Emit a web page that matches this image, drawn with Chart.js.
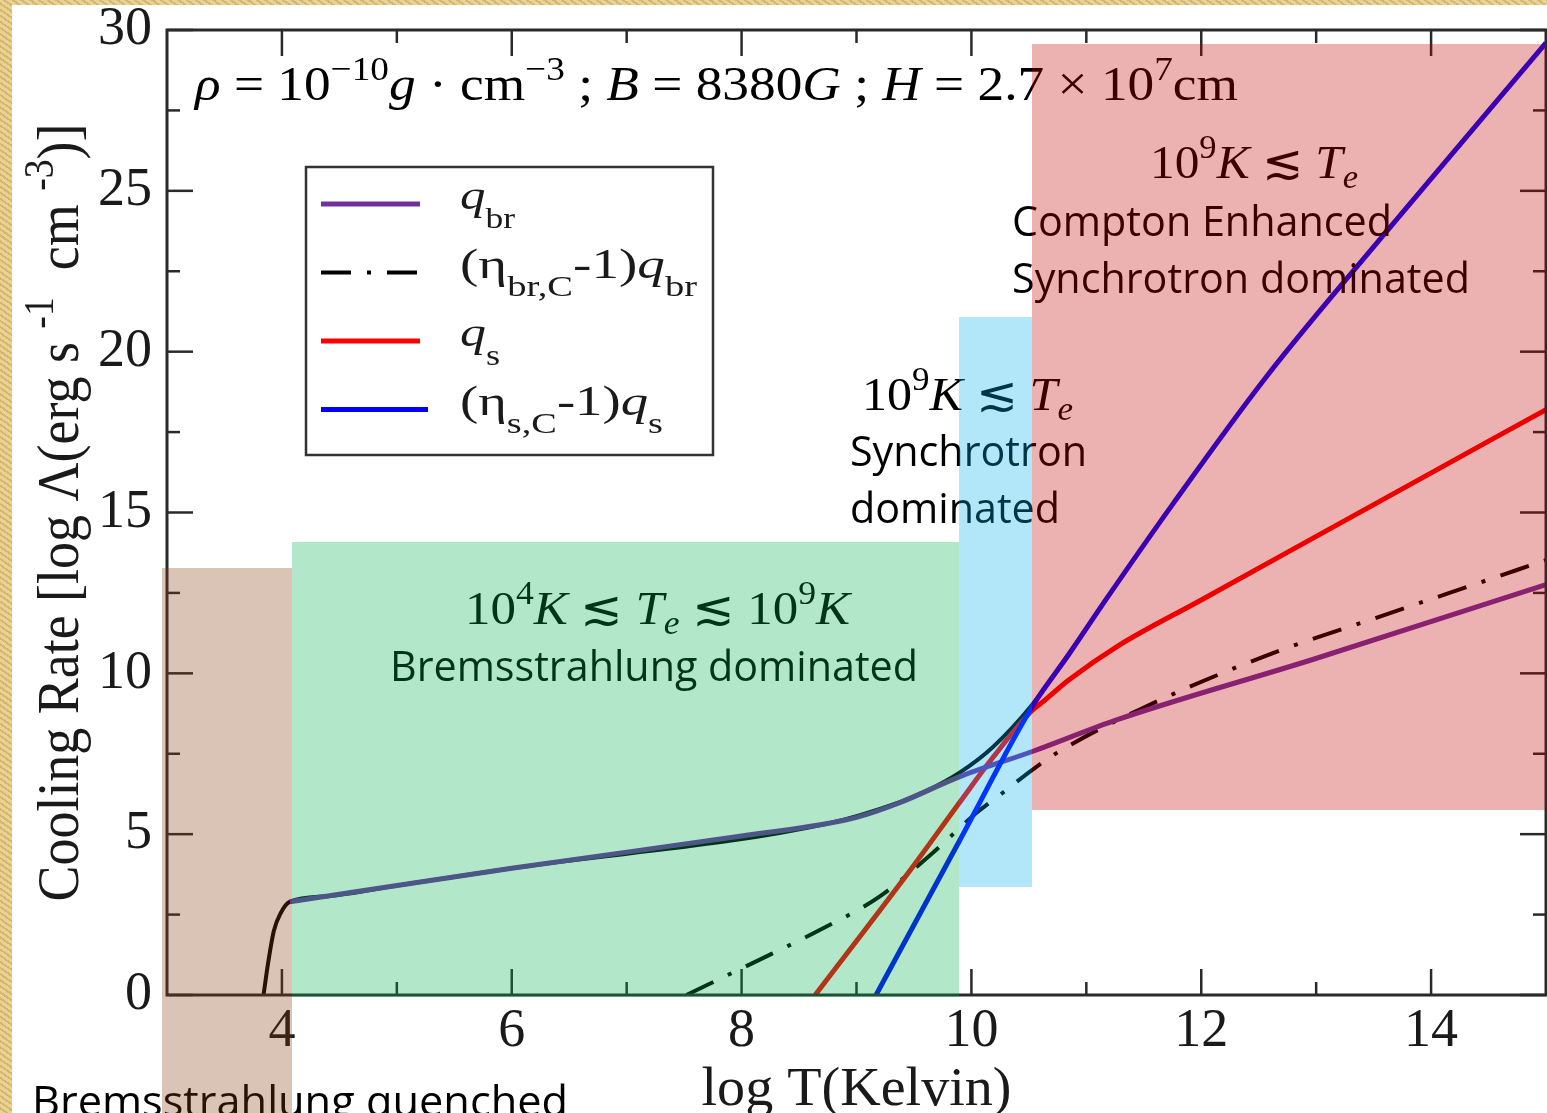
<!DOCTYPE html>
<html>
<head>
<meta charset="utf-8">
<title>Cooling rate vs log T</title>
<script src="https://cdn.jsdelivr.net/npm/chart.js@4.4.1/dist/chart.umd.min.js"></script>
<style>
  html, body { margin: 0; padding: 0; }
  body {
    width: 1547px; height: 1113px; overflow: hidden; position: relative;
    background: #dec27e repeating-linear-gradient(35deg, rgba(255,240,190,0.35) 0 3px, rgba(170,130,50,0.18) 3px 5px);
  }
  #paper { position: absolute; left: 12px; top: 5px; right: 0; bottom: 0; background: #fff; }
  #chart { position: absolute; left: 0; top: 0; width: 1547px; height: 1113px; }
</style>
</head>
<body>
<div id="paper"></div>
<canvas id="chart" width="1547" height="1113"></canvas>
<script>
// axis ticks
const xTicks = [4, 6, 8, 10, 12, 14];
const yTicks = [0, 5, 10, 15, 20, 25, 30];

// log T (Kelvin) / log Lambda
const totalT = [3.84, 3.88, 3.93, 3.99, 4.07, 4.4, 5.0, 6.0, 8.76, 9.37, 9.6, 9.9, 10.19, 10.53, 10.85, 11.17];
const totalL = [0, 1.0, 2.0, 2.55, 2.9, 3.07, 3.4, 3.94, 5.34, 5.99, 6.33, 6.92, 7.72, 9.03, 10.62, 12.29];

const brT = [4.07, 6.0, 8.0, 8.76, 9.0, 9.37, 9.9, 10.53, 11.27, 12.97, 15];
const brL = [2.9, 3.94, 4.94, 5.34, 5.52, 5.97, 6.79, 7.57, 8.56, 10.43, 12.76];

const cbrT = [7.52, 8.1, 8.68, 9.2, 9.66, 10.04, 10.27, 10.53, 10.74, 11.46, 12.55, 13.5, 14.16, 15];
const cbrL = [0, 1.0, 2.02, 3.06, 4.41, 5.65, 6.28, 7.0, 7.52, 8.87, 10.53, 11.7, 12.5, 13.52];

const sT = [8.64, 9.49, 9.9, 10.18, 10.53, 10.61, 10.85, 11.27, 12.0, 13.58, 15];
const sL = [0, 3.99, 6.0, 7.35, 8.85, 9.08, 9.8, 10.84, 12.28, 15.4, 18.2];

const csT = [9.17, 9.9, 10.53, 10.85, 11.17, 11.76, 12.56, 13.58, 15];
const csL = [0, 4.82, 8.97, 10.6, 12.29, 15.3, 19.19, 23.6, 29.6];

// shaded regimes (axis units), drawn translucent on top like the slide shapes
const zones = [
  { x0: 2.957, x1: 4.087, y0: null, y1: 13.29, color: 'rgba(132,60,12,0.3)' },
  { x0: 4.087, x1: 9.896, y0: -0.06, y1: 14.07, color: 'rgba(0,176,80,0.3)' },
  { x0: 9.896, x1: 10.53, y0: 3.36, y1: 21.07, color: 'rgba(0,176,240,0.3)' },
  { x0: 10.53, x1: 15.0, y0: 5.76, y1: 29.57, color: 'rgba(192,0,0,0.3)' }
];

const SERIF = '"Liberation Serif", "DejaVu Serif", serif';
const SANS = '"Open Sans", "Noto Sans", sans-serif';

function pts(xs, ys) {
  return xs.map((x, i) => ({ x: x, y: ys[i] }));
}

// rich text: segments with italic / sup / sub
function layoutRich(ctx, segs, size, fam) {
  let w = 0;
  const parts = segs.map(s => {
    const small = s.sup || s.sub;
    const fs = small ? size * 0.7 : size;
    const font = (s.it ? 'italic ' : '') + fs + 'px ' + (s.fam || fam);
    ctx.font = font;
    let dy = 0;
    if (s.sup) dy = -size * 0.42;
    if (s.sub) dy = size * (typeof s.sub === 'number' ? s.sub : 0.22);
    const p = { t: s.t, font: font, x: w, dy: dy };
    w += ctx.measureText(s.t).width;
    return p;
  });
  return { parts: parts, width: w };
}

function drawRich(ctx, segs, o) {
  const r = layoutRich(ctx, segs, o.size, o.fam || SERIF);
  const sx = o.width ? o.width / r.width : 1;
  ctx.save();
  ctx.translate(o.x, o.y);
  if (o.rot) ctx.rotate(o.rot);
  ctx.scale(sx, 1);
  if (o.center) ctx.translate(-r.width / 2, 0);
  ctx.fillStyle = o.color || '#000';
  ctx.textAlign = 'left';
  ctx.textBaseline = 'alphabetic';
  r.parts.forEach(p => { ctx.font = p.font; ctx.fillText(p.t, p.x, p.dy); });
  ctx.restore();
}

const notes = [
  { segs: [{ t: 'ρ', it: 1 }, { t: ' = 10' }, { t: '−10', sup: 1 }, { t: 'g', it: 1 }, { t: ' · cm' }, { t: '−3', sup: 1 },
           { t: ' ; ' }, { t: 'B', it: 1 }, { t: ' = 8380' }, { t: 'G', it: 1 }, { t: ' ; ' }, { t: 'H', it: 1 },
           { t: ' = 2.7 × 10' }, { t: '7', sup: 1 }, { t: 'cm' }], x: 195, y: 100, size: 48, width: 1043 },
  { segs: [{ t: '10' }, { t: '9', sup: 1 }, { t: 'K', it: 1 }, { t: ' ≲ ' }, { t: 'T', it: 1 }, { t: 'e', it: 1, sub: true }],
    x: 1150, y: 178, size: 47, width: 208 },
  { segs: [{ t: 'Compton Enhanced' }], fam: SANS, x: 1012, y: 236, size: 42, width: 380 },
  { segs: [{ t: 'Synchrotron dominated' }], fam: SANS, x: 1012, y: 293, size: 42, width: 458 },
  { segs: [{ t: '10' }, { t: '9', sup: 1 }, { t: 'K', it: 1 }, { t: ' ≲ ' }, { t: 'T', it: 1 }, { t: 'e', it: 1, sub: true }],
    x: 862, y: 410, size: 47, width: 211 },
  { segs: [{ t: 'Synchrotron' }], fam: SANS, x: 850, y: 466, size: 42, width: 237 },
  { segs: [{ t: 'dominated' }], fam: SANS, x: 850, y: 523, size: 42, width: 210 },
  { segs: [{ t: '10' }, { t: '4', sup: 1 }, { t: 'K', it: 1 }, { t: ' ≲ ' }, { t: 'T', it: 1 }, { t: 'e', it: 1, sub: true },
           { t: ' ≲ 10' }, { t: '9', sup: 1 }, { t: 'K', it: 1 }], x: 465, y: 624, size: 47, width: 385 },
  { segs: [{ t: 'Bremsstrahlung dominated' }], fam: SANS, x: 390, y: 681, size: 42, width: 528 },
  { segs: [{ t: 'Bremsstrahlung quenched' }], fam: SANS, x: 32, y: 1116, size: 42, width: 536 }
];

const legendRows = [
  { key: 'q_br', segs: [{ t: 'q', it: 1 }, { t: 'br', sub: 0.45 }], width: 55 },
  { key: 'cbr', segs: [{ t: '(η' }, { t: 'br,C', sub: 0.45 }, { t: '-1)' }, { t: 'q', it: 1 }, { t: 'br', sub: 0.45 }], width: 237 },
  { key: 'q_s', segs: [{ t: 'q', it: 1 }, { t: 's', sub: 0.45 }], width: 40 },
  { key: 'cs', segs: [{ t: '(η' }, { t: 's,C', sub: 0.45 }, { t: '-1)' }, { t: 'q', it: 1 }, { t: 's', sub: 0.45 }], width: 203 }
];

const decor = {
  id: 'decor',
  afterDraw(chart) {
    const ctx = chart.ctx;
    const a = chart.chartArea;
    const x = chart.scales.x, y = chart.scales.y;

    // frame with inward ticks on all four sides
    ctx.save();
    ctx.strokeStyle = '#2a2a2a';
    ctx.lineWidth = 2.5;
    const seg = (x1, y1, x2, y2) => { ctx.beginPath(); ctx.moveTo(x1, y1); ctx.lineTo(x2, y2); ctx.stroke(); };
    const xMinor = [], yMinor = [];
    const xStep = xTicks[1] - xTicks[0];
    xTicks.forEach(t => {
      [t - xStep / 2, t + xStep / 2].forEach(v => {
        if (v > x.min && v < x.max && xMinor.indexOf(v) < 0) xMinor.push(v);
      });
    });
    for (let i = 0; i < yTicks.length - 1; i++) yMinor.push((yTicks[i] + yTicks[i + 1]) / 2);
    xTicks.forEach(v => { const p = x.getPixelForValue(v); seg(p, a.bottom, p, a.bottom - 26); seg(p, a.top, p, a.top + 26); });
    xMinor.forEach(v => { const p = x.getPixelForValue(v); seg(p, a.bottom, p, a.bottom - 13); seg(p, a.top, p, a.top + 13); });
    yTicks.forEach(v => { const p = y.getPixelForValue(v); seg(a.left, p, a.left + 26, p); seg(a.right, p, a.right - 26, p); });
    yMinor.forEach(v => { const p = y.getPixelForValue(v); seg(a.left, p, a.left + 13, p); seg(a.right, p, a.right - 13, p); });
    ctx.lineWidth = 3;
    ctx.strokeRect(a.left, a.top, a.right - a.left, a.bottom - a.top);
    ctx.restore();

    // axis titles
    drawRich(ctx, [{ t: 'log T(Kelvin)' }], { x: (a.left + a.right) / 2, y: 1105, size: 54, width: 310, center: true, color: '#1a1a1a' });
    drawRich(ctx, [{ t: 'Cooling Rate [log Λ(erg s ' }, { t: '-1', sup: 1 }, { t: '  cm ' }, { t: '-3', sup: 1 }, { t: ')]' }],
      { x: 78, y: (a.top + a.bottom) / 2, rot: -Math.PI / 2, size: 60, width: 778, center: true, color: '#1a1a1a' });

    // legend box
    ctx.save();
    ctx.fillStyle = '#fff';
    ctx.fillRect(306, 167, 407, 288);
    ctx.strokeStyle = '#333';
    ctx.lineWidth = 2.5;
    ctx.strokeRect(306, 167, 407, 288);
    legendRows.forEach((row, i) => {
      const ds = chart.data.datasets.find(d => d.key === row.key);
      const ly = 204 + i * 68.5;
      ctx.save();
      ctx.strokeStyle = ds.borderColor;
      ctx.lineWidth = ds.borderWidth;
      ctx.setLineDash(ds.borderDash || []);
      ctx.beginPath();
      ctx.moveTo(321, ly);
      ctx.lineTo(row.key === 'cs' ? 428 : 420, ly);
      ctx.stroke();
      ctx.restore();
      drawRich(ctx, row.segs, { x: 460, y: ly + 5, size: 42, width: row.width, color: '#1a1a1a' });
    });
    ctx.restore();

    // region annotations
    notes.forEach(n => drawRich(ctx, n.segs, { x: n.x, y: n.y, size: n.size, fam: n.fam, width: n.width }));

    // translucent regime boxes on top of everything
    ctx.save();
    zones.forEach(z => {
      const px0 = Math.round(x.getPixelForValue(z.x0));
      const px1 = Math.round(x.getPixelForValue(z.x1));
      const py1 = Math.round(y.getPixelForValue(z.y1));
      const py0 = z.y0 === null ? chart.height : Math.round(y.getPixelForValue(z.y0));
      ctx.fillStyle = z.color;
      ctx.fillRect(px0, py1, px1 - px0, py0 - py1);
    });
    ctx.restore();
  }
};

const tickFont = { family: SERIF, size: 54, lineHeight: 1 };

new Chart(document.getElementById('chart'), {
  type: 'line',
  data: {
    datasets: [
      { key: 'cs', label: '(η_s,C-1)q_s', data: pts(csT, csL), borderColor: '#0000ff', borderWidth: 5 },
      { key: 'q_br', label: 'q_br', data: pts(brT, brL), borderColor: '#7030a0', borderWidth: 5 },
      { key: 'q_s', label: 'q_s', data: pts(sT, sL), borderColor: '#ff0000', borderWidth: 5 },
      { key: 'cbr', label: '(η_br,C-1)q_br', data: pts(cbrT, cbrL), borderColor: '#000000', borderWidth: 4, borderDash: [30, 16, 4, 16] },
      { key: 'total', label: 'total', data: pts(totalT, totalL), borderColor: '#000000', borderWidth: 4 }
    ]
  },
  options: {
    responsive: false,
    animation: false,
    events: [],
    layout: { padding: { top: 30, right: 1, left: 0, bottom: 0 } },
    elements: {
      point: { radius: 0 },
      line: { cubicInterpolationMode: 'monotone', fill: false, borderCapStyle: 'butt' }
    },
    plugins: { legend: { display: false }, tooltip: { enabled: false } },
    scales: {
      x: {
        type: 'linear', min: 3, max: 15,
        grid: { display: false, drawTicks: false },
        border: { display: false },
        afterBuildTicks: s => { s.ticks = xTicks.map(v => ({ value: v })); },
        afterFit: s => { s.height = 118; s.paddingLeft = 0; s.paddingRight = 0; },
        ticks: { font: tickFont, color: '#1a1a1a', padding: 10, maxRotation: 0 }
      },
      y: {
        type: 'linear', min: 0, max: 30,
        grid: { display: false, drawTicks: false },
        border: { display: false },
        afterBuildTicks: s => { s.ticks = yTicks.map(v => ({ value: v })); },
        afterFit: s => { s.width = 167; s.paddingTop = 0; s.paddingBottom = 0; },
        ticks: { font: tickFont, color: '#1a1a1a', padding: 15 }
      }
    }
  },
  plugins: [decor]
});
</script>
</body>
</html>
